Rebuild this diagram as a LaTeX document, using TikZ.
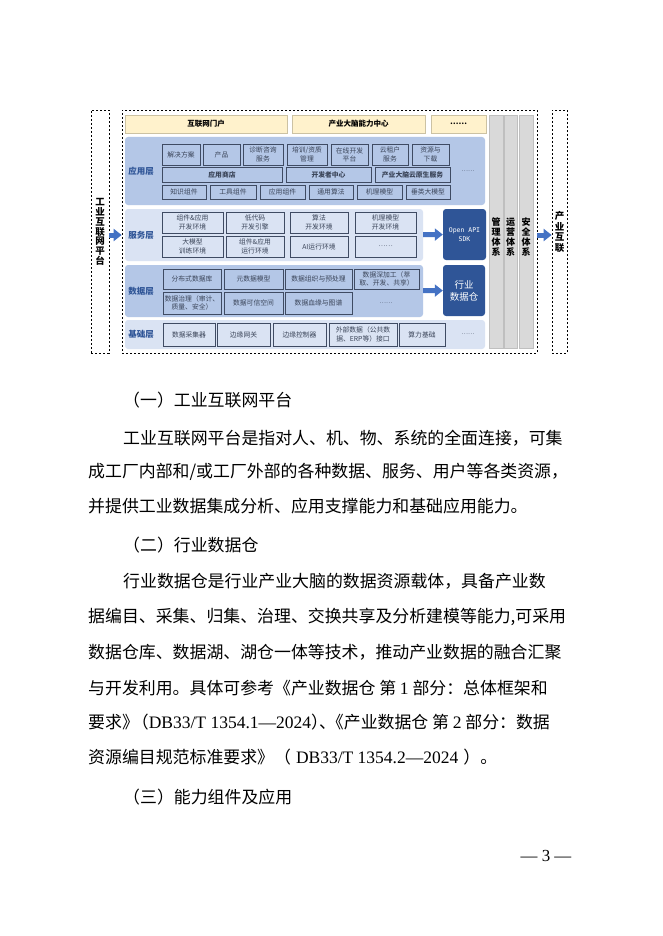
\documentclass[tikz,border=0pt]{standalone}
\usepackage{fontspec}
\setmainfont{Liberation Serif}
\newfontfamily\cjk{Noto Sans CJK SC}
\newfontfamily\mono{DejaVu Sans Mono}
\usetikzlibrary{arrows.meta}
\usepackage{xcolor}

\definecolor{paleA}{HTML}{B4C7E7}
\definecolor{paleB}{HTML}{DAE3F3}
\definecolor{navy}{HTML}{2F5597}
\definecolor{edge}{HTML}{3F4B63}
\definecolor{ink}{HTML}{3A4458}
\definecolor{cream}{HTML}{FFF2CC}
\definecolor{barfill}{HTML}{D9D9D9}
\definecolor{flowc}{HTML}{4472C4}
\newcommand{\setsz}[1]{\fontsize{#1}{#1}\selectfont}
\newcommand{\lat}[1]{{\rmfamily\setsz{17.5}#1}}

\begin{document}
\begin{tikzpicture}[x=1pt, y=-1pt,
  wh/.style 2 args={minimum width=#1pt, minimum height=#2pt},
  dashbox/.style={draw, dash pattern=on 2.4pt off 1.6pt, line width=0.7pt, inner sep=0pt},
  panel/.style={fill=#1, rounded corners=3pt, inner sep=0pt}, panel/.default=paleA,
  cell/.style={draw=edge, line width=0.8pt, fill=#1, inner sep=0pt, align=center,
    text=ink, font=\cjk\fontsize{6.8}{8.2}\selectfont}, cell/.default=paleA,
  layertxt/.style={text=navy, font=\cjk\bfseries\setsz{8.5}},
  toptxt/.style={fill=cream, draw=cream!80!black, line width=0.4pt, inner sep=0pt,
    font=\cjk\bfseries\setsz{7.5}},
  bar/.style={fill=barfill, draw=black!25, line width=0.5pt, inner sep=0pt},
  vtxt/.style={align=center, inner sep=0pt, font=\cjk\bfseries\fontsize{9}{10}\selectfont},
  darkbox/.style={fill=navy, rounded corners=3pt, text=white, align=center, inner sep=0pt},
  flow/.style={draw=flowc, line width=5pt, -{Triangle[width=12pt, length=8pt]}},
  dots/.style={text=ink, inner sep=0pt, font=\cjk\setsz{6}},
  para/.style={anchor=west, inner sep=0pt, font=\cjk\setsz{16.9}}]

  \useasboundingbox (0,0) rectangle (662,936);
  \fill[white] (0,0) rectangle (662,936);

  % outer frames
  \node[dashbox, wh={18}{243}] (plat) at (100,231.5) {};
  \node[dashbox, wh={415}{243}] (main) at (329.5,231.5) {};
  \node[dashbox, wh={15}{243}] (ind) at (559.5,231.5) {};
  \node[vtxt, font=\cjk\bfseries\fontsize{9.5}{9.8}\selectfont] (platt) at (100,232) {工\\业\\互\\联\\网\\平\\台};
  \node[vtxt, font=\cjk\bfseries\fontsize{9.5}{10.5}\selectfont] (indt) at (559.5,232) {产\\业\\互\\联};

  % top row
  \node[toptxt, wh={162}{18}] (portal) at (206,124) {互联网门户};
  \node[toptxt, wh={133}{18}] (brain) at (358.5,124) {产业大脑能力中心};
  \node[toptxt, wh={55}{18}] (more) at (458.5,124) {……};

  % system bars
  \node[bar, wh={14}{233}] (mgmt) at (496,231.5) {};
  \node[bar, wh={13}{233}] (ops) at (510.5,231.5) {};
  \node[bar, wh={14}{233}] (sec) at (526,231.5) {};
  \node[vtxt] (mgmtt) at (496,237) {管\\理\\体\\系};
  \node[vtxt] (opst) at (510.5,237) {运\\营\\体\\系};
  \node[vtxt] (sect) at (526,237) {安\\全\\体\\系};

  % layer panels
  \node[panel, wh={360}{68}] (app) at (305,171) {};
  \node[panel=paleB, wh={298}{52}] (svc) at (274,235) {};
  \node[panel, wh={298}{52}] (dat) at (274,291) {};
  \node[panel=paleB, wh={360}{29}] (base) at (305,334.5) {};
  \node[layertxt] (appl) at (141,171) {应用层};
  \node[layertxt] (svcl) at (141,235) {服务层};
  \node[layertxt] (datl) at (141,291) {数据层};
  \node[layertxt] (basel) at (141,334.5) {基础层};

  % application layer
  \foreach \nm/\xa/\xb/\txt in {app1/162/200/解决方案, app2/203/240/产品,
      app3/243/283/{诊断咨询\\服务}, app4/287/327/{培训/资质\\管理},
      app5/331/368/{在线开发\\平台}, app6/372/408/{云租户\\服务}, app7/412/449/{资源与\\下载}}
    {\pgfmathsetmacro\w{\xb-\xa}
     \node[cell, minimum width=\w pt, minimum height=21pt] (\nm) at ({(\xa+\xb)/2},154.5) {\txt};}
  \node[cell, wh={120}{15}, font=\cjk\bfseries\setsz{6.8}] (app8) at (222,174.5) {应用商店};
  \node[cell, wh={85}{15}, font=\cjk\bfseries\setsz{6.8}] (app9) at (328.5,174.5) {开发者中心};
  \node[cell, wh={75}{15}, font=\cjk\bfseries\setsz{6.8}] (app10) at (412.5,174.5) {产业大脑云原生服务};
  \foreach \nm/\xa/\xb/\txt in {app11/162/206/知识组件, app12/210/256/工具组件,
      app13/260/305/应用组件, app14/309/353/通用算法, app15/357/402/机理模型, app16/406/450/垂类大模型}
    {\pgfmathsetmacro\w{\xb-\xa}
     \node[cell, minimum width=\w pt, minimum height=14pt] (\nm) at ({(\xa+\xb)/2},192) {\txt};}
  \node[dots] (appd) at (468,171) {……};

  % service layer
  \foreach \nm/\xa/\xb/\txt in {svc1/162/223/{组件\&应用\\开发环境}, svc2/226/284/{低代码\\开发引擎},
      svc3/290/348/{算法\\开发环境}, svc4/355/416/{机理模型\\开发环境}}
    {\pgfmathsetmacro\w{\xb-\xa}
     \node[cell=paleB, minimum width=\w pt, minimum height=21pt] (\nm) at ({(\xa+\xb)/2},222.5) {\txt};}
  \foreach \nm/\xa/\xb/\txt in {svc5/162/223/{大模型\\训练环境}, svc6/226/284/{组件\&应用\\运行环境},
      svc7/290/348/AI运行环境, svc8/355/416/……}
    {\pgfmathsetmacro\w{\xb-\xa}
     \node[cell=paleB, minimum width=\w pt, minimum height=21pt] (\nm) at ({(\xa+\xb)/2},246.5) {\txt};}

  % data layer
  \foreach \nm/\xa/\xb/\txt in {dat1/163/221/分布式数据库, dat2/224/283/元数据模型,
      dat3/285/352/数据组织与预处理, dat4/354/419/{数据深加工（萃\\取、开发、共享）}}
    {\pgfmathsetmacro\w{\xb-\xa}
     \node[cell, minimum width=\w pt, minimum height=20pt] (\nm) at ({(\xa+\xb)/2},279) {\txt};}
  \foreach \nm/\xa/\xb/\txt in {dat5/163/221/{数据治理（审计、\\质量、安全）}, dat6/224/283/数据可信空间,
      dat7/285/352/数据血缘与图谱}
    {\pgfmathsetmacro\w{\xb-\xa}
     \node[cell, minimum width=\w pt, minimum height=22pt] (\nm) at ({(\xa+\xb)/2},303) {\txt};}
  \node[dots] (datd) at (386,303) {……};

  % base layer
  \foreach \nm/\xa/\xb/\txt in {base1/163/215/数据采集器, base2/217/270/边缘网关, base3/273/326/边缘控制器,
      base4/329/397/{外部数据（公共数\\据、ERP等）接口}, base5/399/445/算力基础}
    {\pgfmathsetmacro\w{\xb-\xa}
     \node[cell=paleB, minimum width=\w pt, minimum height=23pt] (\nm) at ({(\xa+\xb)/2},334.5) {\txt};}
  \node[dots] (based) at (468,334.5) {……};

  % outputs
  \node[darkbox, wh={43}{51}, font=\mono\fontsize{6.5}{9}\selectfont] (api) at (464.5,234.5) {Open API\\SDK};
  \node[darkbox, wh={42}{51}, font=\cjk\fontsize{9.5}{12}\selectfont] (whs) at (464,290.5) {行业\\数据仓};

  \draw[flow] (plat.east |- svc) -- (main.west |- svc);
  \draw[flow] (main.east |- svc) -- (ind.west |- svc);
  \draw[flow] (svc) -- (api);
  \draw[flow] (dat) -- (whs);

  % body text
  \node[para] (h1) at (123,400) {（一）工业互联网平台};
  \node[para] (p1a) at (123,438) {工业互联网平台是指对人、机、物、系统的全面连接，可集};
  \node[para] (p1b) at (88,472) {成工厂内部和/或工厂外部的各种数据、服务、用户等各类资源，};
  \node[para] (p1c) at (88,506) {并提供工业数据集成分析、应用支撑能力和基础应用能力。};
  \node[para] (h2) at (123,545) {（二）行业数据仓};
  \node[para] (p2a) at (123,581) {行业数据仓是行业产业大脑的数据资源载体，具备产业数};
  \node[para] (p2b) at (88,617) {据编目、采集、归集、治理、交换共享及分析建模等能力,可采用};
  \node[para] (p2c) at (88,652) {数据仓库、数据湖、湖仓一体等技术，推动产业数据的融合汇聚};
  \node[para] (p2d) at (88,688) {与开发利用。具体可参考《产业数据仓 第 \lat{1} 部分：总体框架和};
  \node[para] (p2e) at (88,722) {要求》\kern-7pt（\lat{DB33/T 1354.1—2024}）\kern-9pt、\kern-9pt《产业数据仓 第 \lat{2} 部分：数据};
  \node[para] (p2f) at (88,757) {资源编目规范标准要求》（\hspace{5pt}\lat{DB33/T 1354.2—2024}\hspace{5pt}）。};
  \node[para] (h3) at (123,797) {（三）能力组件及应用};
  \node[inner sep=0pt, font=\rmfamily\setsz{16.9}] (pg) at (546,856) {— 3 —};
\end{tikzpicture}
\end{document}
